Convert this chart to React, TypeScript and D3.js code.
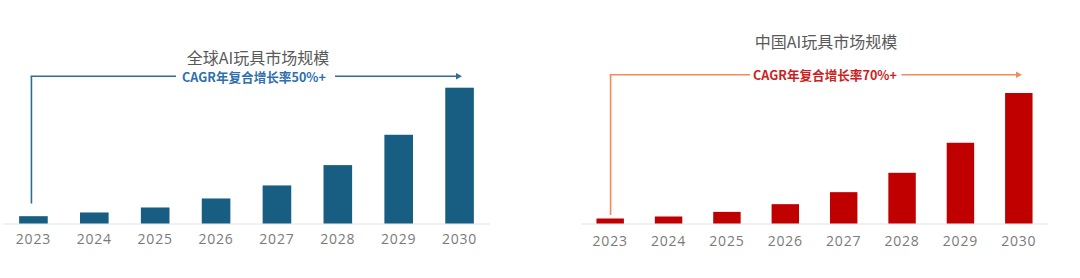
import React from "react";
import * as d3 from "d3";

const years = ["2023", "2024", "2025", "2026", "2027", "2028", "2029", "2030"];
const globalValues = [7.3, 11, 16, 25, 38, 58.3, 88.6, 135.6];
const chinaValues = [5, 7, 11.6, 19.3, 31.3, 50.6, 80.6, 130.3];
const globalTitle = "全球AI玩具市场规模";
const chinaTitle = "中国AI玩具市场规模";
const globalCagr = "CAGR年复合增长率50%+";
const chinaCagr = "CAGR年复合增长率70%+";

const FONT = "'Noto Sans CJK SC', 'Noto Sans', sans-serif";

type PanelProps = {
  values: number[];
  title: string;
  cagr: string;
  x0: number;
  x1: number;
  titleX: number;
  titleY: number;
  cagrY: number;
  cagrX: number;
  gapL: number;
  gapR: number;
  arrowX: number;
  vertBottom: number;
  vertOffset: number;
  yTop: number;
  barColor: string;
  lineColor: string;
  textColor: string;
  labelY: number;
};

function Panel(p: PanelProps) {
  const baseline = 223.5;
  const x = d3.scaleBand<string>().domain(years).range([p.x0, p.x1]).paddingInner(0.53).paddingOuter(0.265);
  const y = d3.scaleLinear().domain([0, d3.max(p.values) as number]).range([baseline, p.yTop]);
  const vx = (x(years[0]) as number) + x.bandwidth() / 2 + p.vertOffset;
  const lineY = p.cagrY;
  return (
    <g>
      <text x={p.titleX} y={p.titleY} textAnchor="middle" dominantBaseline="central" fontSize={16} fill="#595959" fontFamily={FONT}>
        {p.title}
      </text>
      <line x1={vx} x2={vx} y1={lineY} y2={p.vertBottom} stroke={p.lineColor} strokeWidth={1.6} />
      <line x1={vx - 0.8} x2={p.gapL} y1={lineY} y2={lineY} stroke={p.lineColor} strokeWidth={1.6} />
      <line x1={p.gapR} x2={p.arrowX - 4} y1={lineY} y2={lineY} stroke={p.lineColor} strokeWidth={1.6} />
      <path d={`M${p.arrowX - 6},${lineY - 3.2} L${p.arrowX},${lineY} L${p.arrowX - 6},${lineY + 3.2} Z`} fill={p.lineColor} />
      <text x={p.cagrX} y={lineY} textAnchor="middle" dominantBaseline="central" fontSize={12.6} fontWeight="bold" fill={p.textColor} fontFamily={FONT}>
        {p.cagr}
      </text>
      <line x1={p.x0} x2={p.x1} y1={baseline + 0.5} y2={baseline + 0.5} stroke="#e3e3e3" strokeWidth={1} />
      {years.map((yr, i) => (
        <rect key={yr} x={x(yr)} y={y(p.values[i])} width={x.bandwidth()} height={baseline - y(p.values[i])} fill={p.barColor} />
      ))}
      {years.map((yr) => (
        <text key={"l" + yr} x={(x(yr) as number) + x.bandwidth() / 2} y={p.labelY} textAnchor="middle" dominantBaseline="central" fontSize={14} fill="#7a7a7a" fontFamily="'Open Sans', sans-serif" letterSpacing={0.8}>
          {yr}
        </text>
      ))}
    </g>
  );
}

export default function App() {
  return (
    <svg width={1080} height={278} style={{ position: "absolute", left: 0, top: 0, background: "#fff" }}>
      <rect width={1080} height={278} fill="#fff" />
      <Panel
        values={globalValues}
        title={globalTitle}
        cagr={globalCagr}
        x0={3}
        x1={490}
        titleX={258}
        titleY={56.5}
        cagrY={76.3}
        cagrX={254}
        gapL={176}
        gapR={335}
        arrowX={462}
        vertBottom={203.5}
        vertOffset={-2}
        yTop={87.7}
        barColor="#175e82"
        lineColor="#2f6d92"
        textColor="#2e6fae"
        labelY={238}
      />
      <Panel
        values={chinaValues}
        title={chinaTitle}
        cagr={chinaCagr}
        x0={581}
        x1={1048}
        titleX={826}
        titleY={41}
        cagrY={74.7}
        cagrX={825}
        gapL={750}
        gapR={901.5}
        arrowX={1022}
        vertBottom={215}
        vertOffset={0.4}
        yTop={93}
        barColor="#c00000"
        lineColor="#f28a5a"
        textColor="#cc1e1e"
        labelY={240}
      />
    </svg>
  );
}
